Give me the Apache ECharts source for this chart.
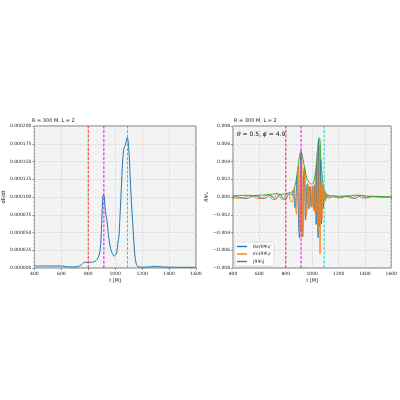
<!DOCTYPE html>
<html>
<head>
<meta charset="utf-8">
<script src="https://cdn.jsdelivr.net/npm/echarts@6/dist/echarts.min.js"></script>
<style>
  html, body { margin: 0; padding: 0; background: #fff; }
  #main { width: 400px; height: 400px; }
</style>
</head>
<body>
<div id="main"></div>
<script>
// left panel: energy flux, values in units of 1e-6
var fluxT = [400, 500, 600, 640, 680, 720, 750, 770, 800, 830, 850, 865, 880, 890, 898, 904, 909, 914, 919, 925,
  932, 940, 948, 957, 965, 975, 985, 995, 1005, 1012, 1020, 1028, 1035, 1045, 1055, 1063, 1070, 1078, 1085, 1091,
  1097, 1105, 1112, 1120, 1128, 1136, 1143, 1150, 1158, 1168, 1200, 1250, 1290, 1350, 1400, 1500, 1600];
var dEdt = [2.8, 2.8, 2.8, 1.8, 1.4, 2.0, 4.5, 8.0, 8.0, 8.0, 9.5, 12, 18, 28, 55, 85, 102, 103, 100, 85,
  74, 65, 50, 37, 28, 22, 18, 17, 19, 23, 35, 45, 70, 110, 150, 166, 171, 175, 182, 184,
  176, 155, 125, 95, 70, 45, 25, 12, 5, 2, 1.2, 1.5, 2.4, 1.5, 1.2, 1.0, 1.0];
var fluxTicks = ['0.000000', '0.000025', '0.000050', '0.000075', '0.000100', '0.000125', '0.000150', '0.000175', '0.000200'];

// right panel: R*psi4, values in units of 1e-3
var psiT = [400, 425, 450, 475, 500, 525, 550, 575, 600, 625, 650, 675, 700, 715, 730, 745, 760, 775, 790, 805, 820, 835,
  850, 855, 860, 865, 870, 875, 880, 885, 890, 895, 900, 905, 910, 915, 920, 925, 930, 935, 940, 945, 950, 955, 960,
  965, 970, 975, 980, 985, 990, 995, 1000, 1005, 1010, 1015, 1020, 1025, 1030, 1035, 1040, 1045, 1050, 1055, 1060,
  1065, 1070, 1075, 1080, 1085, 1090, 1095, 1100, 1105, 1110,
  1120, 1135, 1150, 1175, 1200, 1225, 1250, 1275, 1300, 1325, 1350, 1375, 1400, 1425, 1450, 1500, 1550, 1600];
var rePsi4 = [0.1, 0.05, -0.05, -0.12, -0.18, -0.05, 0.1, 0.12, 0.0, -0.18, -0.1, 0.15, 0.05, -0.3, -0.2, 0.2, 0.25, -0.1, -0.3, -0.1, 0.3, 0.35,
  0.15, 0.67, 0.58, -0.24, -1.25, -1.15, 0.48, 2.40, 2.16, -0.87, -4.04, -4.63, 3.08, 4.89, -0.17, -4.52, -2.40, 2.40, 3.29, -0.11, -2.59, -1.34, 1.29,
  1.50, -1.11, -1.34, 0.99, 1.22, -0.92, -1.14, 0.86, 1.18, -0.99, -1.50, 1.36, 0.58, -3.09, 3.99, -1.61, -4.60, 6.50, -3.35, -2.12,
  4.23, -3.03, 0.45, 1.16, -1.30, 0.58, 0.12, -0.43, 0.38, -0.10,
  0.15, -0.1, 0.02, 0.08, -0.05, -0.08, 0.06, 0.1, -0.05, -0.18, 0.05, 0.15, -0.02, -0.08, 0.03, 0.05, -0.03, 0.02];
var imPsi4 = [-0.1, -0.14, -0.14, -0.1, 0.05, 0.17, 0.1, -0.12, -0.2, -0.08, 0.2, 0.22, -0.3, -0.15, 0.35, 0.3, -0.1, -0.28, -0.1, 0.35, 0.35, -0.35,
  -0.58, -0.19, 0.56, 0.97, 0.36, -1.11, -1.94, -0.69, 2.08, 3.49, 1.16, -3.90, -3.94, 1.78, 5.00, 1.30, -4.50, -3.07, 1.20, 3.10, 0.75, -1.99, -1.65,
  1.17, 1.42, -1.05, -1.26, 0.95, 1.18, -0.89, -1.10, 0.92, 1.26, -1.17, -1.73, 2.74, -1.64, -1.61, 4.95, -3.86, -1.15, 5.80, -6.40,
  1.54, 1.75, -2.56, 1.38, 0, -0.69, 0.69, -0.25, -0.14, 0.28,
  -0.12, -0.1, 0.11, -0.05, -0.08, 0.05, 0.08, -0.06, -0.14, 0.08, 0.19, -0.1, -0.12, 0.05, 0.07, -0.03, -0.04, 0.05];
var absPsi4 = [0.15, 0.15, 0.15, 0.18, 0.2, 0.18, 0.15, 0.18, 0.2, 0.22, 0.25, 0.28, 0.3, 0.35, 0.4, 0.35, 0.3, 0.3, 0.35, 0.4, 0.45, 0.5,
  0.6, 0.7, 0.8, 1.0, 1.3, 1.6, 2.0, 2.5, 3.0, 3.6, 4.2, 4.7, 5.0, 5.2, 5.0, 4.7, 4.3, 3.9, 3.5, 3.1, 2.7, 2.4, 2.1,
  1.9, 1.8, 1.7, 1.6, 1.55, 1.5, 1.45, 1.4, 1.5, 1.6, 1.9, 2.2, 2.8, 3.5, 4.3, 5.2, 6.0, 6.6, 6.7, 6.4,
  4.5, 3.5, 2.6, 1.8, 1.3, 0.9, 0.7, 0.5, 0.4, 0.3,
  0.2, 0.15, 0.12, 0.1, 0.1, 0.1, 0.1, 0.12, 0.15, 0.2, 0.2, 0.18, 0.12, 0.1, 0.08, 0.06, 0.05, 0.05];
var psiTicks = ['\u22120.008', '\u22120.006', '\u22120.004', '\u22120.002', '0.000', '0.002', '0.004', '0.006', '0.008'];

var tMerger = [800, 916, 1091];
var mergerColors = ['#ff3030', '#ff00ff', '#1cd0d0'];
var yRange = [[0, 200], [-8, 8]];

function pairs(xs, ys) {
    return xs.map(function (x, i) { return [x, ys[i]]; });
}

var myChart = echarts.init(document.getElementById('main'), null, { renderer: 'canvas' });

var FONT = 'DejaVu Sans';

function splitStyle() {
    return { show: true, lineStyle: { color: '#cfcfcf', type: [2, 1.5], width: 0.7 } };
}

function xAx(grid) {
    return {
        type: 'value', gridIndex: grid, min: 400, max: 1600, interval: 200,
        name: 't [M]', nameLocation: 'middle', nameGap: 10,
        nameTextStyle: { fontSize: 5, fontFamily: FONT, color: '#222' },
        axisLine: { show: false },
        axisTick: { show: true, length: 2, lineStyle: { color: '#444', width: 0.6 } },
        axisLabel: { fontSize: 4.5, fontFamily: FONT, color: '#222', margin: 3,
            formatter: function (v) { return String(v); } },
        splitLine: splitStyle()
    };
}

// dashed vertical line at a merger time, spanning the full y range of the panel
function vlineSeries(grid, k) {
    var c = mergerColors[k];
    return {
        name: 'mark' + grid + '_' + k, type: 'line', xAxisIndex: grid, yAxisIndex: grid, z: 10,
        data: [[tMerger[k], yRange[grid][0]], [tMerger[k], yRange[grid][1]]],
        showSymbol: false, silent: true, color: c,
        lineStyle: { color: c, type: [3, 1.5], width: 1 }
    };
}

var series = [
    {
        name: 'dE/dt', type: 'line', xAxisIndex: 0, yAxisIndex: 0,
        data: pairs(fluxT, dEdt), showSymbol: false, smooth: 0.3,
        lineStyle: { color: '#1f77b4', width: 1 }, itemStyle: { color: '#1f77b4' }
    },
    {
        name: 'Re(RΨ₄)', type: 'line', xAxisIndex: 1, yAxisIndex: 1,
        data: pairs(psiT, rePsi4), showSymbol: false, smooth: 0.4,
        lineStyle: { color: '#1f77b4', width: 0.9 }, itemStyle: { color: '#1f77b4' }
    },
    {
        name: 'Im(RΨ₄)', type: 'line', xAxisIndex: 1, yAxisIndex: 1,
        data: pairs(psiT, imPsi4), showSymbol: false, smooth: 0.4,
        lineStyle: { color: '#ff7f0e', width: 0.9 }, itemStyle: { color: '#ff7f0e' }
    },
    {
        name: '|RΨ₄|', type: 'line', xAxisIndex: 1, yAxisIndex: 1,
        data: pairs(psiT, absPsi4), showSymbol: false, smooth: 0.3,
        lineStyle: { color: '#2ca02c', width: 0.9 }, itemStyle: { color: '#2ca02c' }
    }
];
[0, 1].forEach(function (g) {
    [0, 1, 2].forEach(function (k) { series.push(vlineSeries(g, k)); });
});

var option = {
    animation: false,
    backgroundColor: '#ffffff',
    title: [
        { text: 'R = 300 M, L = 2', left: 32, top: 118, padding: 0,
          textStyle: { fontSize: 5, fontWeight: 'normal', fontFamily: FONT, color: '#222' } },
        { text: 'R = 300 M, L = 2', left: 234, top: 118, padding: 0,
          textStyle: { fontSize: 5, fontWeight: 'normal', fontFamily: FONT, color: '#222' } },
        { text: '{i|θ} = 0.5, {i|ϕ} = 4.9', left: 237, top: 131, padding: 0,
          textStyle: { fontSize: 6, fontWeight: 'normal', fontFamily: FONT, color: '#111',
            rich: { i: { fontSize: 6, fontStyle: 'italic', fontFamily: FONT, color: '#111' } } } }
    ],
    grid: [
        { left: 31, top: 126, width: 165, height: 142, show: true, backgroundColor: '#f3f3f3', borderColor: '#555', borderWidth: 0.8 },
        { left: 233, top: 126, width: 162, height: 142, show: true, backgroundColor: '#f3f3f3', borderColor: '#555', borderWidth: 0.8 }
    ],
    legend: {
        orient: 'vertical', left: 235, top: 242, padding: [2, 3, 2, 2], itemGap: 2.5,
        itemWidth: 10, itemHeight: 1.4, icon: 'rect',
        backgroundColor: 'rgba(255,255,255,0.85)', borderColor: '#cccccc', borderWidth: 0.6, borderRadius: 1.5,
        textStyle: { fontSize: 4.5, fontFamily: FONT, fontStyle: 'italic', color: '#222', padding: [0, 0, 0, 1] },
        data: ['Re(RΨ₄)', 'Im(RΨ₄)', '|RΨ₄|']
    },
    xAxis: [xAx(0), xAx(1)],
    yAxis: [
        {
            type: 'value', gridIndex: 0, min: 0, max: 200, interval: 25,
            name: 'dE/dt', nameLocation: 'middle', nameGap: 23,
            nameTextStyle: { fontSize: 5, fontFamily: FONT, color: '#222' },
            axisLine: { show: false },
            axisTick: { show: true, length: 2, lineStyle: { color: '#444', width: 0.6 } },
            axisLabel: { fontSize: 4.5, fontFamily: FONT, color: '#222', margin: 3,
                formatter: function (v) { return fluxTicks[Math.round(v / 25)]; } },
            splitLine: splitStyle()
        },
        {
            type: 'value', gridIndex: 1, min: -8, max: 8, interval: 2,
            name: 'RΨ₄', nameLocation: 'middle', nameGap: 24,
            nameTextStyle: { fontSize: 5, fontFamily: FONT, fontStyle: 'italic', color: '#222' },
            axisLine: { show: false },
            axisTick: { show: true, length: 2, lineStyle: { color: '#444', width: 0.6 } },
            axisLabel: { fontSize: 4.5, fontFamily: FONT, color: '#222', margin: 3,
                formatter: function (v) { return psiTicks[Math.round((v + 8) / 2)]; } },
            splitLine: splitStyle()
        }
    ],
    series: series
};

myChart.setOption(option);
</script>
</body>
</html>
